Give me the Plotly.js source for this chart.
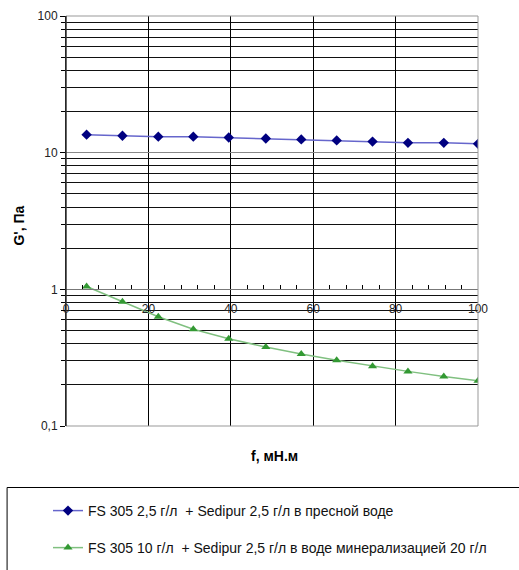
<!DOCTYPE html>
<html>
<head>
<meta charset="utf-8">
<script src="https://cdn.plot.ly/plotly-3.0.1.min.js"></script>
<style>html,body{margin:0;padding:0;background:#fff;}#chart{width:519px;height:570px;}</style>
</head>
<body>
<div id="chart"></div>
<script>
var seriesNames = [
  'FS 305 2,5 г/л\u00a0 + Sedipur 2,5 г/л в пресной воде',
  'FS 305 10 г/л\u00a0 + Sedipur 2,5 г/л в воде минерализацией 20 г/л'
];
var xFresh = [5, 13.7, 22.4, 30.9, 39.5, 48.5, 57.1, 65.7, 74.4, 83, 91.7, 100];
var yFresh = [13.55, 13.3, 13.1, 13.1, 12.9, 12.7, 12.5, 12.3, 12.05, 11.8, 11.8, 11.6];
var xSalt = [5, 13.7, 22.4, 30.9, 39.5, 48.5, 57.1, 65.7, 74.4, 83, 91.7, 100];
var ySalt = [1.05, 0.81, 0.63, 0.51, 0.435, 0.378, 0.336, 0.303, 0.274, 0.251, 0.23, 0.214];
var yMajorVals = [0.1, 1, 10, 100];
var yMajorText = ['0,1', '1', '10', '100'];
var yMinorVals = [0.2,0.3,0.4,0.5,0.6,0.7,0.8,0.9,2,3,4,5,6,7,8,9,20,30,40,50,60,70,80,90];
var xTickVals = [0, 20, 40, 60, 80, 100];
var xTitle = 'f, мН.м';
var yTitle = "G', Па";

var traces = [
  {x: xFresh, y: yFresh, name: seriesNames[0], legend: 'legend', type: 'scatter', mode: 'lines+markers',
   line: {color: '#6666cc', width: 1.5},
   marker: {symbol: 'diamond', size: 8, color: '#000080'}},
  {x: xSalt, y: ySalt, name: seriesNames[1], legend: 'legend2', type: 'scatter', mode: 'lines+markers',
   line: {color: '#80c080', width: 1.5},
   marker: {symbol: 'triangle-up', size: 8, color: '#339933'}}
];

var legendStyle = function (yMid) {
  return {x: -0.0437, xanchor: 'left', y: yMid, yanchor: 'middle',
          bgcolor: 'rgba(0,0,0,0)', borderwidth: 0,
          font: {size: 14, color: '#111'}, itemwidth: 30};
};

var layout = {
  width: 519, height: 570,
  margin: {l: 66, r: 41, t: 16, b: 144, autoexpand: false},
  paper_bgcolor: '#fff', plot_bgcolor: '#fff',
  font: {family: 'Liberation Sans, Arial, sans-serif', size: 12, color: '#000'},
  showlegend: true,
  legend: legendStyle(-0.2073),
  legend2: legendStyle(-0.2976),
  xaxis: {
    range: [0, 100], tickvals: xTickVals, ticktext: xTickVals.map(String),
    anchor: 'free', position: 1/3,
    showgrid: true, gridcolor: '#000', gridwidth: 1,
    zeroline: false, showline: true, linecolor: '#777', linewidth: 1,
    ticks: 'inside', ticklen: 4, tickcolor: '#000',
    minor: {dtick: 4, ticks: 'inside', ticklen: 4, tickcolor: '#000', showgrid: false},
    ticklabelstandoff: 8,
    tickfont: {size: 12, color: '#222'}
  },
  yaxis: {
    type: 'log', range: [-1, 2],
    tickvals: yMajorVals, ticktext: yMajorText,
    showgrid: true, gridcolor: '#888', gridwidth: 1,
    showline: true, linecolor: '#000', linewidth: 1,
    ticks: 'outside', ticklen: 5, tickcolor: '#000',
    minor: {tickvals: yMinorVals, showgrid: true, gridcolor: '#111', gridwidth: 1,
            ticks: 'outside', ticklen: 4, tickcolor: '#000'},
    tickfont: {size: 12, color: '#222'}
  },
  shapes: [
    {type: 'rect', xref: 'paper', yref: 'paper', x0: 0, x1: 1, y0: 0, y1: 1,
     line: {color: '#999', width: 1}, layer: 'above'},
    {type: 'line', xref: 'paper', yref: 'paper', x0: 0, x1: 0, y0: 0, y1: 1,
     line: {color: '#000', width: 1}, layer: 'above'},
    {type: 'rect', xref: 'paper', yref: 'paper', x0: -0.143, x1: 1.15, y0: -0.15, y1: -0.4,
     line: {color: '#000', width: 1}}
  ],
  annotations: [
    {text: '<b>' + xTitle + '</b>', xref: 'paper', yref: 'paper', x: 0.505, y: -0.072,
     xanchor: 'center', yanchor: 'middle', showarrow: false, font: {size: 14}},
    {text: '<b>' + yTitle + '</b>', xref: 'paper', yref: 'paper', x: -0.113, y: 0.49,
     xanchor: 'center', yanchor: 'middle', textangle: -90, showarrow: false, font: {size: 14}}
  ]
};

Plotly.newPlot('chart', traces, layout, {displayModeBar: false, staticPlot: true});
</script>
</body>
</html>
